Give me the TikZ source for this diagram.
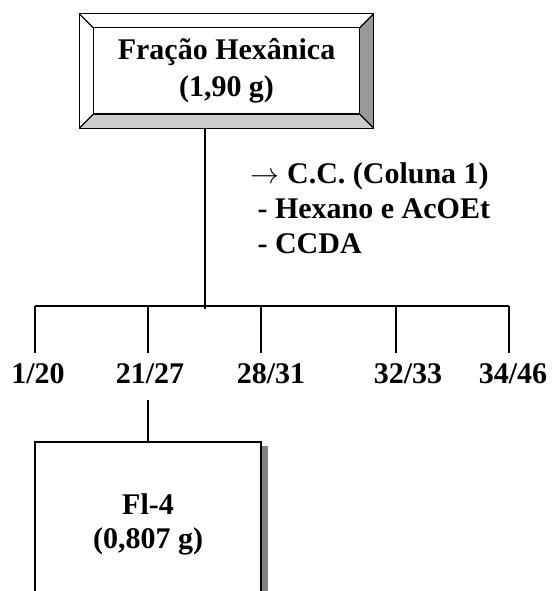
\documentclass[tikz,border=0pt]{standalone}
\usepackage{graphicx}
\usepackage{fontspec}
\setmainfont{Liberation Serif}
\usetikzlibrary{calc}
\begin{document}
\begin{tikzpicture}[x=1pt,y=-1pt,line width=1.2pt,
	every node/.style={font=\fontsize{30}{37}\selectfont\bfseries,align=center,inner sep=0pt},
	bevelbox/.style={minimum width=293pt,minimum height=113pt},
	bevelright/.style={fill=black!40},
	bevelbottom/.style={fill=black!20},
	fracbox/.style={draw,fill=white,minimum width=226pt,minimum height=164pt,font=\fontsize{30}{34}\selectfont\bfseries},
	boxshadow/.style={fill=black!50},
	fraclabel/.style={anchor=base,inner ysep=9.5pt,text depth=7pt}]
\useasboundingbox (0,0) rectangle (552,591);
\clip (0,0) rectangle (552,591);
\node[bevelbox] (frac) at (226.5,71) {Fração Hexânica\\(1,90 g)};
\coordinate (inw) at ($(frac.north west)+(14,14)$);
\coordinate (ine) at ($(frac.north east)+(-14,14)$);
\coordinate (ise) at ($(frac.south east)+(-14,-14)$);
\coordinate (isw) at ($(frac.south west)+(14,-14)$);
\fill[bevelright] (frac.north east) -- (ine) -- (ise) -- (frac.south east) -- cycle;
\fill[bevelbottom] (frac.south west) -- (isw) -- (ise) -- (frac.south east) -- cycle;
\draw (frac.north west) rectangle (frac.south east);
\draw (inw) rectangle (ise);
\draw (frac.north west) -- (inw) (frac.north east) -- (ine)
	(frac.south east) -- (ise) (frac.south west) -- (isw);
\node[anchor=north west,align=left,font=\fontsize{30}{35}\selectfont\bfseries] (cc) at (250,162)
	{\resizebox{29pt}{!}{$\rightarrow$} C.C. (Coluna 1)\\\hspace*{7pt}- Hexano e AcOEt\\\hspace*{7pt}- CCDA};
\node[fraclabel] (f1) at (38,383) {1/20};
\node[fraclabel] (f2) at (150,383) {21/27};
\node[fraclabel] (f3) at (271,383) {28/31};
\node[fraclabel] (f4) at (408,383) {32/33};
\node[fraclabel] (f5) at (513,383) {34/46};
\coordinate (hub) at (205,309);
\coordinate (d1) at (35,306);
\coordinate (d2) at (148,306);
\coordinate (d3) at (261,306);
\coordinate (d4) at (396,306);
\coordinate (d5) at (509,306);
\draw (frac.south -| hub) -- (hub);
\draw (d1) -- (d5);
\draw (d1) -- (d1 |- f1.north);
\draw (d2) -- (d2 |- f2.north);
\draw (d3) -- (d3 |- f3.north);
\draw (d4) -- (d4 |- f4.north);
\draw (d5) -- (d5 |- f5.north);
\node[fracbox] (fl) at (148,524) {Fl-4\\(0,807 g)};
\fill[boxshadow] ($(fl.north east)+(0.6,5)$) rectangle ($(fl.south east)+(6,0)$);
\draw (fl.north) -- (fl.north |- f2.south);
\end{tikzpicture}
\end{document}
